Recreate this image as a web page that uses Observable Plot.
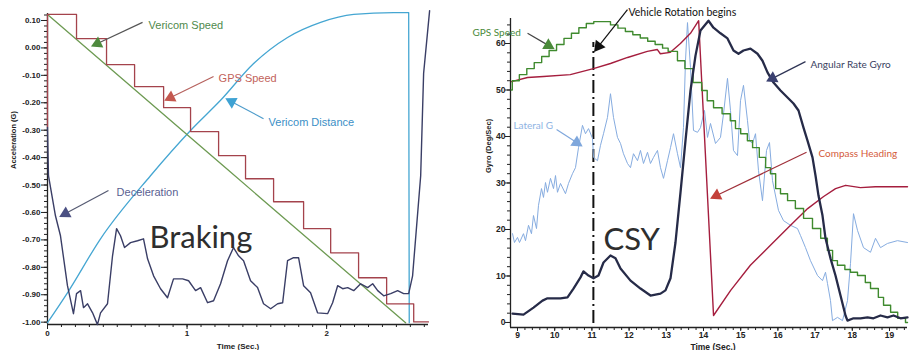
<!DOCTYPE html>
<html><head><meta charset="utf-8">
<script src="https://cdn.jsdelivr.net/npm/d3@7"></script>
<script src="https://cdn.jsdelivr.net/npm/@observablehq/plot@0.6"></script>
<style>
html,body{margin:0;padding:0;background:#fff;}
#wrap{position:relative;width:909px;height:350px;overflow:hidden;background:#fff;}
#left{position:absolute;left:0;top:0;}
#right{position:absolute;left:440px;top:0;}
svg{overflow:visible}
</style></head><body>
<div id="wrap"><div id="left"></div><div id="right"></div></div>
<script>
// ---------- LEFT PANEL DATA (Braking) : [time s, acceleration G] ----------
const leftYTickValues = [0.10, 0.00, -0.10, -0.20, -0.30, -0.40, -0.50, -0.60, -0.70, -0.80, -0.90, -1.00];
const leftXTickValues = [0, 1, 2];
const vericomSpeed = [[0, 0.122], [1.28, -0.439], [2.566, -1.002]];
const gpsSpeedLeft = [[0,-0.29],[0,0.122],[0.208,0.034],[0.423,-0.061],[0.624,-0.141],[0.832,-0.218],[1.025,-0.305],[1.226,-0.393],[1.419,-0.477],[1.62,-0.561],[1.835,-0.659],[2.029,-0.747],[2.229,-0.838],[2.43,-0.933],[2.624,-0.999],[2.73,-0.999]];
const vericomDistance = [[0,-1.002],[0.143,-0.893],[0.38,-0.696],[0.738,-0.466],[1.025,-0.301],[1.24,-0.191],[1.477,-0.057],[1.72,0.038],[1.957,0.093],[2.194,0.122],[2.48,0.129],[2.588,0.129],[2.592,-1.002]];
const deceleration = [[0,-0.29],[0.007,-0.466],[0.057,-0.612],[0.093,-0.685],[0.143,-0.867],[0.186,-0.969],[0.208,-0.896],[0.237,-0.885],[0.258,-0.947],[0.287,-0.933],[0.323,-0.966],[0.358,-1.009],[0.38,-0.966],[0.43,-0.933],[0.466,-0.758],[0.495,-0.659],[0.523,-0.685],[0.552,-0.728],[0.595,-0.71],[0.645,-0.703],[0.688,-0.696],[0.717,-0.769],[0.76,-0.831],[0.81,-0.878],[0.86,-0.911],[0.903,-0.842],[0.968,-0.842],[1.011,-0.849],[1.061,-0.885],[1.097,-0.874],[1.147,-0.929],[1.19,-0.922],[1.24,-0.86],[1.29,-0.776],[1.333,-0.728],[1.369,-0.758],[1.405,-0.776],[1.455,-0.849],[1.505,-0.874],[1.548,-0.933],[1.599,-0.951],[1.649,-0.933],[1.685,-0.929],[1.72,-0.776],[1.763,-0.765],[1.799,-0.765],[1.835,-0.867],[1.885,-0.893],[1.935,-0.966],[2.007,-0.969],[2.043,-0.929],[2.079,-0.867],[2.115,-0.878],[2.151,-0.874],[2.194,-0.885],[2.244,-0.86],[2.294,-0.874],[2.33,-0.86],[2.366,-0.885],[2.409,-0.904],[2.459,-0.896],[2.509,-0.885],[2.552,-0.896],[2.588,-0.896],[2.616,-0.831],[2.674,-0.466],[2.695,-0.093],[2.738,0.136]];

// ---------- RIGHT PANEL DATA (CSY) : [time s, Gyro deg/s] ----------
const rightYTickValues = [0, 10, 20, 30, 40, 50, 60];
const rightXTickValues = [9, 10, 11, 12, 13, 14, 15, 16, 17, 18, 19];
const rotationBeginsTime = 11.04;
const gpsSpeedRight = [[8.83,50.0],[8.86,52.0],[9.05,53.3],[9.25,54.6],[9.45,55.9],[9.65,57.2],[9.85,58.5],[10.05,59.8],[10.25,61.1],[10.45,62.2],[10.65,63.4],[10.85,64.3],[11.05,64.7],[11.5,64.0],[11.7,63.3],[11.9,62.6],[12.1,61.9],[12.3,61.2],[12.5,60.5],[12.7,59.8],[12.9,59.0],[13.05,58.3],[13.3,56.3],[13.5,54.6],[13.72,51.6],[13.95,49.9],[14.1,47.7],[14.27,46.2],[14.5,44.9],[14.72,43.4],[14.86,41.7],[15.0,40.6],[15.18,39.1],[15.32,37.6],[15.5,35.5],[15.67,33.3],[15.8,32.0],[15.94,28.8],[16.07,27.7],[16.26,26.2],[16.47,24.5],[16.69,22.4],[16.93,20.2],[17.15,18.1],[17.33,15.5],[17.47,13.3],[17.6,12.3],[17.8,11.4],[17.95,10.8],[18.14,10.1],[18.35,8.6],[18.49,7.3],[18.7,5.4],[18.84,3.7],[19.03,2.2],[19.22,0.9],[19.43,0.0],[19.484,0.0]];
const compassHeading = [[8.84,51.8],[9.27,52.7],[9.7,52.9],[10.42,53.3],[11.04,54.6],[11.5,55.7],[11.96,57.0],[12.49,58.3],[12.76,58.7],[12.84,57.8],[13.11,58.1],[13.38,60.0],[13.65,62.2],[13.87,64.9],[14.27,1.5],[14.73,6.9],[15.26,12.3],[15.8,16.6],[16.34,20.9],[16.8,24.5],[17.23,27.1],[17.55,28.8],[17.82,29.5],[18.22,29.0],[18.62,29.2],[19.484,29.2]];
const lateralG = [[8.866,19.1],[8.919,17.2],[9.0,18.3],[9.054,17.2],[9.161,19.1],[9.215,17.6],[9.296,20.9],[9.376,19.1],[9.43,23.0],[9.511,20.2],[9.565,25.2],[9.645,28.8],[9.699,26.9],[9.753,30.1],[9.806,28.0],[9.887,31.0],[9.968,28.8],[10.022,31.6],[10.075,28.0],[10.156,29.9],[10.29,27.7],[10.371,29.9],[10.478,32.0],[10.559,33.3],[10.64,37.6],[10.747,42.4],[10.828,40.6],[10.909,41.7],[11.016,39.6],[11.043,35.5],[11.151,34.8],[11.231,38.1],[11.312,40.6],[11.419,44.1],[11.5,49.2],[11.581,44.1],[11.688,39.8],[11.769,38.5],[11.849,36.3],[11.957,34.2],[12.038,33.3],[12.118,36.3],[12.226,34.8],[12.306,37.0],[12.387,34.2],[12.495,36.6],[12.575,34.2],[12.656,35.5],[12.763,37.0],[12.844,33.3],[12.925,31.0],[13.032,34.8],[13.113,37.6],[13.194,40.6],[13.301,36.3],[13.382,33.3],[13.462,41.9],[13.516,56.3],[13.57,64.5],[13.651,54.8],[13.731,41.3],[13.839,40.9],[13.919,41.9],[14.027,45.6],[14.108,39.8],[14.188,42.8],[14.323,38.5],[14.457,39.8],[14.538,44.9],[14.645,52.5],[14.726,45.6],[14.806,37.0],[14.914,35.9],[14.995,47.7],[15.075,51.0],[15.183,43.4],[15.237,39.1],[15.317,38.5],[15.398,40.6],[15.478,32.7],[15.586,26.2],[15.694,37.0],[15.774,38.7],[15.855,30.5],[16.016,24.1],[16.151,21.9],[16.339,20.9],[16.527,20.2],[16.608,18.7],[16.742,16.1],[16.876,13.3],[17.065,10.1],[17.199,9.0],[17.28,10.8],[17.333,8.4],[17.414,4.7],[17.468,0.4],[17.602,1.1],[17.737,0.4],[17.871,4.7],[17.952,12.7],[18.032,23.4],[18.14,19.8],[18.301,16.1],[18.489,15.1],[18.624,18.1],[18.758,16.1],[18.946,17.0],[19.215,17.6],[19.484,17.2]];
const angularRateGyro = [[8.866,1.9],[9.161,1.7],[9.43,3.2],[9.672,4.7],[9.806,5.2],[10.156,5.2],[10.344,5.4],[10.505,7.3],[10.694,9.7],[10.774,11.0],[10.909,10.1],[11.043,9.5],[11.177,10.1],[11.312,12.9],[11.5,14.4],[11.634,13.8],[11.769,11.6],[12.038,9.0],[12.306,7.3],[12.575,5.8],[12.844,6.2],[12.978,6.9],[13.113,9.5],[13.247,17.2],[13.382,28.0],[13.516,39.1],[13.651,49.9],[13.785,57.4],[13.919,62.8],[14.134,64.9],[14.269,63.4],[14.457,62.2],[14.645,61.1],[14.806,58.5],[14.941,57.8],[15.075,58.5],[15.263,58.9],[15.452,57.8],[15.586,56.3],[15.72,53.8],[15.882,51.6],[16.07,49.9],[16.258,48.4],[16.419,47.1],[16.554,45.6],[16.688,41.9],[16.796,39.1],[16.93,35.5],[17.011,31.6],[17.091,27.3],[17.199,23.0],[17.28,18.1],[17.414,13.8],[17.548,10.1],[17.683,5.8],[17.817,1.5],[17.871,0.4],[18.032,0.9],[18.22,0.9],[18.409,1.1],[18.57,0.9],[18.758,1.5],[18.946,1.1],[19.108,1.5],[19.296,0.9],[19.484,1.1]];

// ---------- annotation texts ----------
const leftLabels = ["Vericom Speed", "GPS Speed", "Vericom Distance", "Deceleration", "Braking"];
const rightLabels = ["Vehicle Rotation begins", "GPS Speed", "Lateral G", "Angular Rate Gyro", "Compass Heading", "CSY"];

// ---------- layout ----------
const LW = 440, RW = 469, H = 350;
const Ldom = {x: [0, 2.73], y: [-1.0085, 0.1255]};
const Lm = {l: 47, r: 12, t: 13, b: 26};
const Rdom = {x: [8.812, 19.484], y: [-1.08, 65.38]};
const Rm = {l: 70, r: 2, t: 18, b: 23};

const LX = d3.scaleLinear(Ldom.x, [Lm.l, LW - Lm.r]);
const LY = d3.scaleLinear(Ldom.y, [H - Lm.b, Lm.t]);
const RX = d3.scaleLinear(Rdom.x, [Rm.l, RW - Rm.r]);
const RY = d3.scaleLinear(Rdom.y, [H - Rm.b, Rm.t]);

const px = d => d[0], py = d => d[1];

function arrow(a, sx, sy, lineColor, headColor) {
  const dx = sx(a.x2) - sx(a.x1), dy = sy(a.y2) - sy(a.y1);
  const ang = Math.atan2(dx, -dy) * 180 / Math.PI;
  return [
    Plot.link([a], {x1: "x1", y1: "y1", x2: "x2", y2: "y2", stroke: lineColor, strokeWidth: 1.2}),
    Plot.dot([a], {x: "x2", y: "y2", symbol: "triangle", r: 4.6, fill: headColor, stroke: "none", rotate: ang})
  ];
}
function label(txt, x, y, color, size, font, opts = {}) {
  return Plot.text([{x, y, txt}], {x: "x", y: "y", text: "txt", fill: color, fontSize: size, fontFamily: font,
    fontWeight: "normal", textAnchor: "start", lineAnchor: "middle", ...opts});
}
const ARIAL = "'Liberation Sans', Arial, sans-serif";
const CAL = "Lato, 'Open Sans', sans-serif";

// ---------- LEFT PLOT ----------
const left = Plot.plot({
  width: LW, height: H,
  marginLeft: Lm.l, marginRight: Lm.r, marginTop: Lm.t, marginBottom: Lm.b,
  x: {domain: Ldom.x, axis: null},
  y: {domain: Ldom.y, axis: null},
  style: {fontFamily: ARIAL, fontSize: "8px", fontWeight: "bold", background: "transparent", overflow: "visible", color: "#222"},
  marks: [
    Plot.ruleX([Ldom.x[0]], {stroke: "#222", strokeWidth: 1.3}),
    Plot.ruleY([Ldom.y[0]], {stroke: "#222", strokeWidth: 1.3}),
    Plot.axisY(leftYTickValues, {anchor: "left", tickSize: 6, tickPadding: 1, tickFormat: d => d.toFixed(2), label: null, stroke: "#222"}),
    Plot.axisY(d3.range(-1, 0.121, 0.02), {anchor: "left", tickSize: 3, fill: "none", label: null, stroke: "#222"}),
    Plot.axisX(leftXTickValues, {anchor: "bottom", tickSize: 5, tickPadding: 1, tickFormat: d => String(d), label: null, stroke: "#222"}),
    Plot.axisX(d3.range(0, 2.71, 0.1), {anchor: "bottom", tickSize: 3, fill: "none", label: null, stroke: "#222"}),
    Plot.text(["Acceleration (G)"], {text: d => d, frameAnchor: "left", dx: -34, rotate: -90, fontSize: 7.5, fill: "#222"}),
    Plot.text(["Time (Sec.)"], {text: d => d, frameAnchor: "bottom", dy: 24, lineAnchor: "bottom", fontSize: 8, fill: "#222"}),
    Plot.line(vericomDistance, {x: px, y: py, stroke: "#45a6d2", strokeWidth: 1.3, curve: "monotone-x"}),
    Plot.line(vericomSpeed, {x: px, y: py, stroke: "#6d9a52", strokeWidth: 1.3}),
    Plot.line(gpsSpeedLeft, {x: px, y: py, stroke: "#a4434c", strokeWidth: 1.3, curve: "step-after"}),
    Plot.line(deceleration, {x: px, y: py, stroke: "#3a3e66", strokeWidth: 1.4}),
    ...arrow({x1: 0.681, y1: 0.093, x2: 0.358, y2: 0.016}, LX, LY, "#555", "#4e8a3e"),
    ...arrow({x1: 1.19, y1: -0.104, x2: 0.882, y2: -0.181}, LX, LY, "#b6625e", "#c4584f"),
    ...arrow({x1: 1.548, y1: -0.258, x2: 1.319, y2: -0.196}, LX, LY, "#4e9ccb", "#3ea2d3"),
    ...arrow({x1: 0.437, y1: -0.52, x2: 0.129, y2: -0.604}, LX, LY, "#555a72", "#4b5083"),
    label(leftLabels[0], 0.724, 0.082, "#4f8a4c", 11, ARIAL),
    label(leftLabels[1], 1.226, -0.112, "#c2625b", 11, ARIAL),
    label(leftLabels[2], 1.584, -0.272, "#3b8fc6", 11, ARIAL),
    label(leftLabels[3], 0.495, -0.528, "#5a5f92", 11, ARIAL),
    label(leftLabels[4], 0.731, -0.728, "#2e2e2e", 31, CAL, {lineAnchor: "bottom"})
  ]
});
document.getElementById("left").appendChild(left);

// ---------- RIGHT PLOT ----------
const right = Plot.plot({
  width: RW, height: H,
  marginLeft: Rm.l, marginRight: Rm.r, marginTop: Rm.t, marginBottom: Rm.b,
  x: {domain: Rdom.x, axis: null},
  y: {domain: Rdom.y, axis: null},
  style: {fontFamily: ARIAL, fontSize: "8.5px", fontWeight: "bold", background: "transparent", overflow: "visible", color: "#222"},
  marks: [
    Plot.ruleX([Rdom.x[0]], {stroke: "#222", strokeWidth: 1.3}),
    Plot.ruleY([Rdom.y[0]], {stroke: "#222", strokeWidth: 1.3}),
    Plot.axisY(rightYTickValues, {anchor: "left", tickSize: 5, tickPadding: 0, tickFormat: d => String(d), label: null, stroke: "#222"}),
    Plot.axisY(d3.range(0, 65, 2), {anchor: "left", tickSize: 3, fill: "none", label: null, stroke: "#222"}),
    Plot.axisX(rightXTickValues, {anchor: "bottom", tickSize: 4, tickPadding: 0, tickFormat: d => String(d), label: null, stroke: "#222"}),
    Plot.axisX(d3.range(9, 19.5, 0.2), {anchor: "bottom", tickSize: 3, fill: "none", label: null, stroke: "#222"}),
    Plot.text(["Gyro (Deg/Sec)"], {text: d => d, frameAnchor: "left", dx: -22, rotate: -90, fontSize: 7.5, fill: "#222"}),
    Plot.text(["Time (Sec.)"], {text: d => d, frameAnchor: "bottom", dy: 22, dx: 4, lineAnchor: "bottom", fontSize: 8.5, fill: "#222"}),
    Plot.ruleX([rotationBeginsTime], {y1: -0.2, y2: 60.2, stroke: "#111", strokeWidth: 2, strokeDasharray: "13,4,2,4"}),
    Plot.line(lateralG, {x: px, y: py, stroke: "#86ace0", strokeWidth: 1}),
    Plot.line(compassHeading, {x: px, y: py, stroke: "#a51e3e", strokeWidth: 1.4}),
    Plot.line(gpsSpeedRight, {x: px, y: py, stroke: "#3f8a2e", strokeWidth: 1.4, curve: "step-after"}),
    Plot.line(angularRateGyro, {x: px, y: py, stroke: "#262b48", strokeWidth: 2.3}),
    ...arrow({x1: 11.957, y1: 67.3, x2: 11.177, y2: 59.4}, RX, RY, "#111", "#111"),
    ...arrow({x1: 9.27, y1: 62.2, x2: 9.83, y2: 59.6}, RX, RY, "#444", "#4a8a3a"),
    ...arrow({x1: 10.05, y1: 41.5, x2: 10.59, y2: 38.7}, RX, RY, "#7fa7dc", "#7fa7dc"),
    ...arrow({x1: 16.742, y1: 56.1, x2: 15.855, y2: 52.5}, RX, RY, "#2f3555", "#3a4070"),
    ...arrow({x1: 16.77, y1: 36.6, x2: 14.35, y2: 27.3}, RX, RY, "#a0303a", "#c4403a"),
    label(rightLabels[0], 11.984, 66.7, "#111", 10.5, CAL),
    label(rightLabels[1], 7.79, 62.2, "#4a8a3a", 10, CAL),
    label(rightLabels[2], 8.89, 42.4, "#8fb3e3", 10, CAL),
    label(rightLabels[3], 16.876, 55.5, "#3a3f5f", 10, CAL),
    label(rightLabels[4], 17.09, 36.3, "#d45a3a", 10, CAL),
    label(rightLabels[5], 11.31, 15.5, "#2e2e2e", 31, CAL, {lineAnchor: "bottom"})
  ]
});
document.getElementById("right").appendChild(right);
</script>
</body></html>
